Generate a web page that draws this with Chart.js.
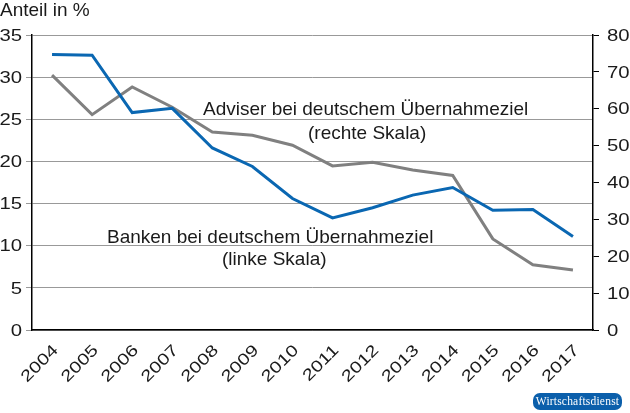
<!DOCTYPE html>
<html>
<head>
<meta charset="utf-8">
<script src="https://cdn.jsdelivr.net/npm/chart.js@4.4.1/dist/chart.umd.min.js"></script>
<style>
  html, body { margin: 0; padding: 0; background: #fff; }
  #wrap { position: relative; width: 630px; height: 413px; }
  #logo {
    position: absolute; left: 533px; top: 393px; width: 89px; height: 17px;
    background: #0b5fab; border-radius: 7px; color: #fff;
    font-family: "Liberation Serif", serif; font-size: 11.5px; line-height: 17px;
    text-align: center; letter-spacing: 0.2px;
  }
</style>
</head>
<body>
<div id="wrap">
  <canvas id="myChart" width="630" height="413"></canvas>
  <div id="logo">Wirtschaftsdienst</div>
</div>
<script>
const years = ['2004', '2005', '2006', '2007', '2008', '2009', '2010', '2011', '2012', '2013', '2014', '2015', '2016', '2017'];
// Banken bei deutschem Übernahmeziel, linke Skala
const banken = [32.7, 32.6, 25.8, 26.3, 21.6, 19.4, 15.6, 13.3, 14.5, 16.0, 16.9, 14.2, 14.3, 11.1];
// Adviser bei deutschem Übernahmeziel, rechte Skala
const adviser = [69.1, 58.4, 65.9, 60.4, 53.7, 52.8, 50.1, 44.5, 45.5, 43.4, 41.9, 24.7, 17.7, 16.3];
const leftTicks = [0, 5, 10, 15, 20, 25, 30, 35];
const rightTicks = [0, 10, 20, 30, 40, 50, 60, 70, 80];

const font = 'Liberation Sans, Arial, sans-serif';
const tickFont = '16px ' + font;
const stretch = 1.27; // tick digits in the original are set wide

const labelPlugin = {
  id: 'labels',
  afterDraw(chart) {
    const c = chart.ctx;
    const { x, y, y1 } = chart.scales;
    c.save();
    c.fillStyle = '#1a1a1a';

    // tick labels, drawn by hand so they can be stretched
    c.font = tickFont;
    c.textBaseline = 'alphabetic';
    leftTicks.forEach((v) => {
      c.save();
      c.translate(y.right - 10, y.getPixelForValue(v) + 5.7);
      c.scale(stretch, 1);
      c.textAlign = 'right';
      c.fillText(String(v), 0, 0);
      c.restore();
    });
    rightTicks.forEach((v) => {
      c.save();
      c.translate(y1.left + 14, y1.getPixelForValue(v) + 5.7);
      c.scale(stretch, 1);
      c.textAlign = 'left';
      c.fillText(String(v), 0, 0);
      c.restore();
    });
    years.forEach((yr, i) => {
      c.save();
      c.translate(x.getPixelForValue(i) + 7, x.top + 21);
      c.rotate(-Math.PI / 4);
      c.scale(stretch, 1);
      c.textAlign = 'right';
      c.fillText(yr, 0, 0);
      c.restore();
    });

    c.font = '19px ' + font;
    c.textAlign = 'left';
    c.fillText('Anteil in %', 0, 16);
    c.fillText('Adviser bei deutschem Übernahmeziel', 203, 115);
    c.fillText('(rechte Skala)', 308, 139);
    c.fillText('Banken bei deutschem Übernahmeziel', 107, 243);
    c.fillText('(linke Skala)', 222, 265);
    c.restore();
  }
};

const ctx = document.getElementById('myChart');

new Chart(ctx, {
  type: 'line',
  data: {
    labels: years,
    datasets: [
      {
        label: 'Banken',
        data: banken,
        yAxisID: 'y',
        borderColor: '#0a67b2',
        borderWidth: 3,
        pointRadius: 0,
        tension: 0,
      },
      {
        label: 'Adviser',
        data: adviser,
        yAxisID: 'y1',
        borderColor: '#808080',
        borderWidth: 3,
        pointRadius: 0,
        tension: 0,
      },
    ],
  },
  options: {
    responsive: false,
    animation: false,
    layout: { padding: { top: 35, left: 0, right: 0, bottom: 0 } },
    plugins: {
      legend: { display: false },
      tooltip: { enabled: false },
    },
    scales: {
      x: {
        offset: true,
        grid: { display: true, drawOnChartArea: false, drawTicks: false },
        border: { color: '#000', width: 1.5 },
        ticks: { display: false },
        afterFit(scale) { scale.height = 83; },
      },
      y: {
        position: 'left',
        min: 0,
        max: 35,
        afterBuildTicks(scale) { scale.ticks = leftTicks.map((v) => ({ value: v })); },
        grid: { color: '#999', lineWidth: 1, tickLength: 6 },
        border: { color: '#000', width: 1.5 },
        ticks: { display: false },
        afterFit(scale) { scale.width = 32; },
      },
      y1: {
        position: 'right',
        min: 0,
        max: 80,
        afterBuildTicks(scale) { scale.ticks = rightTicks.map((v) => ({ value: v })); },
        grid: { drawOnChartArea: false, color: '#000', tickLength: 6 },
        border: { color: '#000', width: 1.5 },
        ticks: { display: false },
        afterFit(scale) { scale.width = 37; },
      },
    },
  },
  plugins: [labelPlugin],
});
</script>
</body>
</html>
